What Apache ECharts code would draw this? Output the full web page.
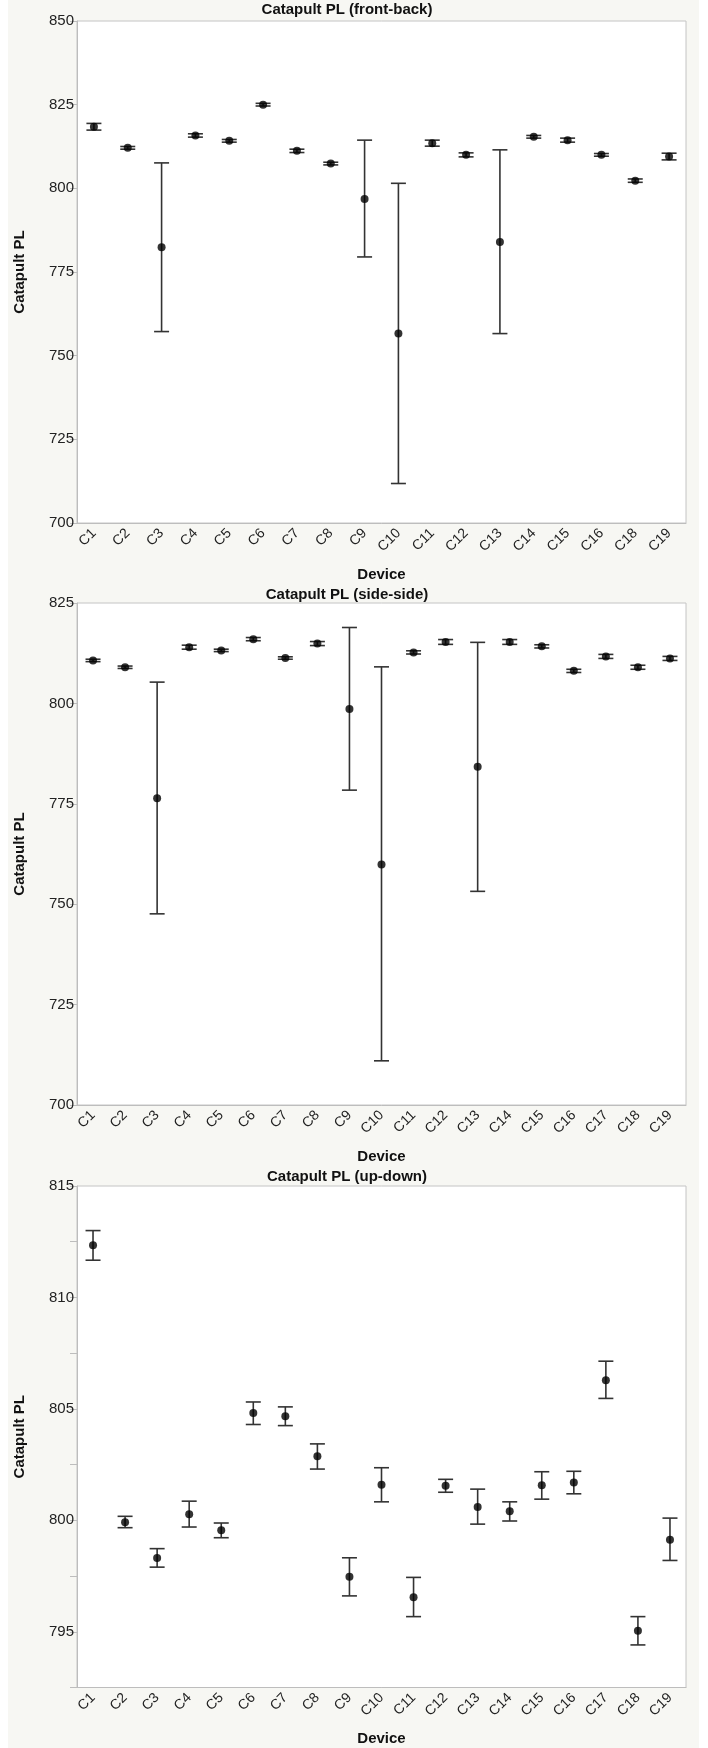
<!DOCTYPE html>
<html>
<head>
<meta charset="utf-8">
<script src="https://cdn.jsdelivr.net/npm/echarts@6/dist/echarts.min.js"></script>
<style>
html,body{margin:0;padding:0;background:#ffffff;}
#bg{position:absolute;left:8px;top:0;width:691px;height:1748px;background:#f7f7f3;}
#chart{position:absolute;left:0;top:0;width:708px;height:1748px;}
</style>
</head>
<body>
<div id="bg"></div>
<div id="chart"></div>
<script>
// ---- Data ----
const catsFB = ['C1','C2','C3','C4','C5','C6','C7','C8','C9','C10','C11','C12','C13','C14','C15','C16','C18','C19'];
const meanFB = [818.4,812.1,782.4,815.8,814.2,825.0,811.2,807.4,796.8,756.6,813.5,810.0,784.0,815.4,814.4,810.0,802.3,809.5];
const lowFB  = [817.4,811.7,757.2,815.3,813.8,824.6,810.7,807.0,779.5,711.8,812.6,809.4,756.6,815.0,813.8,809.6,801.8,808.5];
const highFB = [819.4,812.5,807.6,816.3,814.6,825.4,811.7,807.8,814.4,801.5,814.4,810.6,811.5,815.8,815.0,810.4,802.8,810.5];

const catsSS = ['C1','C2','C3','C4','C5','C6','C7','C8','C9','C10','C11','C12','C13','C14','C15','C16','C17','C18','C19'];
const meanSS = [810.7,809.0,776.4,814.0,813.2,816.0,811.3,814.9,798.6,759.9,812.7,815.3,784.2,815.3,814.2,808.1,811.7,809.0,811.2];
const lowSS  = [810.4,808.7,747.6,813.5,812.9,815.6,811.0,814.4,778.4,711.0,812.3,814.7,753.2,814.7,813.8,807.7,811.2,808.5,810.7];
const highSS = [811.0,809.3,805.3,814.5,813.5,816.4,811.6,815.4,818.9,809.1,813.1,815.9,815.2,815.9,814.6,808.5,812.2,809.5,811.7];

const catsUD = ['C1','C2','C3','C4','C5','C6','C7','C8','C9','C10','C11','C12','C13','C14','C15','C16','C17','C18','C19'];
const meanUD = [812.34,799.91,798.31,800.27,799.55,804.82,804.67,802.88,797.47,801.60,796.55,801.55,800.60,800.41,801.57,801.70,806.29,795.05,799.13];
const lowUD  = [811.67,799.67,797.90,799.70,799.22,804.30,804.25,802.30,796.61,800.83,795.68,801.26,799.83,799.97,800.95,801.19,805.47,794.41,798.20];
const highUD = [813.00,800.18,798.73,800.86,799.88,805.31,805.09,803.43,798.32,802.36,797.44,801.84,801.40,800.83,802.18,802.20,807.14,795.68,800.10];

const titles = ['Catapult PL (front-back)','Catapult PL (side-side)','Catapult PL (up-down)'];
const yMins = [700, 700, 792.5];
const yMaxs = [850, 825, 815];
const yIntervals = [25, 25, 2.5];

// ---- Layout ----
const FONT = '"Liberation Sans", Arial, sans-serif';
const gridTops = [21, 603, 1186];
const gridHeights = [502, 502, 501.5];
const titleYs = [10, 595, 1177];

const panels = [
  {cats: catsFB, mean: meanFB, low: lowFB, high: highFB},
  {cats: catsSS, mean: meanSS, low: lowSS, high: highSS},
  {cats: catsUD, mean: meanUD, low: lowUD, high: highUD}
];

const grids = [], xAxes = [], yAxes = [], series = [], graphics = [];
panels.forEach((p, i) => {
  grids.push({left: 77, right: 22, top: gridTops[i], height: gridHeights[i],
    show: true, backgroundColor: '#ffffff', borderColor: '#c4c4c4', borderWidth: 1});
  xAxes.push({type: 'category', gridIndex: i, data: p.cats, boundaryGap: true,
    axisLine: {show: true, lineStyle: {color: '#bdbdbd', width: 1}},
    axisTick: {show: false},
    axisLabel: {rotate: 45, margin: 8, color: '#222', fontSize: 14, fontFamily: FONT, interval: 0},
    name: 'Device', nameLocation: 'middle', nameGap: 44,
    nameTextStyle: {fontWeight: 'bold', fontSize: 15, color: '#111', fontFamily: FONT}
  });
  yAxes.push({type: 'value', gridIndex: i, min: yMins[i], max: yMaxs[i], interval: yIntervals[i],
    axisLine: {show: true, lineStyle: {color: '#bdbdbd', width: 1}},
    axisTick: {show: true, length: 7, lineStyle: {color: '#bdbdbd'}},
    splitLine: {show: false},
    axisLabel: {color: '#222', fontSize: 15, fontFamily: FONT, margin: 3,
      formatter: v => (Math.abs(v % 5) < 1e-6 ? String(v) : '')},
    name: 'Catapult PL', nameLocation: 'middle', nameGap: 50,
    nameTextStyle: {fontWeight: 'bold', fontSize: 15, color: '#111', fontFamily: FONT}
  });
  const barData = p.cats.map((c, k) => [k, p.low[k], p.high[k]]);
  series.push({type: 'custom', xAxisIndex: i, yAxisIndex: i, data: barData, z: 2,
    renderItem: function (params, api) {
      const x = api.value(0);
      const lo = api.coord([x, api.value(1)]);
      const hi = api.coord([x, api.value(2)]);
      const hw = 7.5;
      const st = {stroke: '#333333', lineWidth: 1.6, fill: null};
      return {type: 'group', children: [
        {type: 'line', shape: {x1: lo[0], y1: lo[1], x2: hi[0], y2: hi[1]}, style: st},
        {type: 'line', shape: {x1: lo[0]-hw, y1: lo[1], x2: lo[0]+hw, y2: lo[1]}, style: st},
        {type: 'line', shape: {x1: hi[0]-hw, y1: hi[1], x2: hi[0]+hw, y2: hi[1]}, style: st}
      ]};
    },
    encode: {x: 0, y: [1, 2]}
  });
  series.push({type: 'scatter', xAxisIndex: i, yAxisIndex: i, data: p.mean, symbol: 'circle',
    symbolSize: 8, itemStyle: {color: '#000000'}, z: 3});
  graphics.push({type: 'text', x: 347, y: titleYs[i],
    style: {text: titles[i], fill: '#111', font: 'bold 15px ' + FONT,
      align: 'center', verticalAlign: 'middle', textAlign: 'center', textVerticalAlign: 'middle'}});
});

const chart = echarts.init(document.getElementById('chart'), null, {renderer: 'canvas'});
chart.setOption({
  backgroundColor: 'transparent',
  animation: false,
  grid: grids, xAxis: xAxes, yAxis: yAxes, series: series, graphic: graphics
});
</script>
</body>
</html>
